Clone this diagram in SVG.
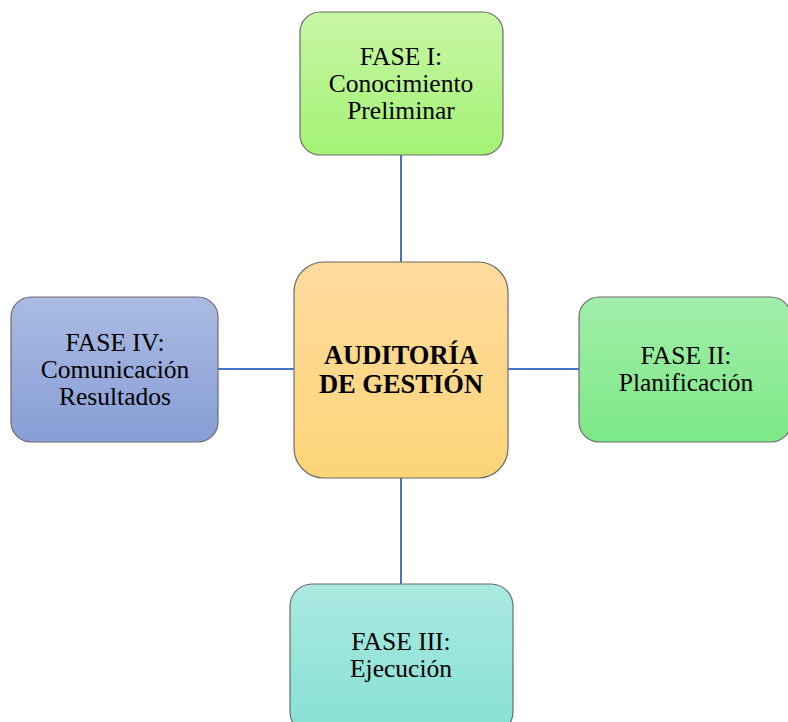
<svg xmlns="http://www.w3.org/2000/svg" width="788" height="722" viewBox="0 0 788 722">
<defs>
<linearGradient id="gTop" x1="0" y1="0" x2="0" y2="1"><stop offset="0" stop-color="#C8F6A6"/><stop offset="1" stop-color="#A4F274"/></linearGradient>
<linearGradient id="gCen" x1="0" y1="0" x2="0" y2="1"><stop offset="0" stop-color="#FDDB9E"/><stop offset="1" stop-color="#FDD577"/></linearGradient>
<linearGradient id="gLeft" x1="0" y1="0" x2="0" y2="1"><stop offset="0" stop-color="#AABAE2"/><stop offset="1" stop-color="#879FD6"/></linearGradient>
<linearGradient id="gRight" x1="0" y1="0" x2="0" y2="1"><stop offset="0" stop-color="#A2EEAA"/><stop offset="1" stop-color="#7CE886"/></linearGradient>
<linearGradient id="gBot" x1="0" y1="0" x2="0" y2="1"><stop offset="0" stop-color="#AAE9E0"/><stop offset="1" stop-color="#86E0D4"/></linearGradient>
</defs>
<style>
.box{stroke:#6b6b6b;stroke-width:1.2}
.t{font-family:"Liberation Serif","Times New Roman",serif;font-size:25.5px;fill:#000;text-anchor:middle}
.b{font-family:"Liberation Serif","Times New Roman",serif;font-size:26.5px;font-weight:bold;fill:#000;text-anchor:middle}
.c{stroke:#4472C4;stroke-width:2;fill:none}
</style>
<rect width="788" height="722" fill="#fff"/>
<g id="connectors">
<line class="c" x1="401" y1="155" x2="401" y2="262"/>
<line class="c" x1="401" y1="478" x2="401" y2="585"/>
<line class="c" x1="218" y1="369" x2="294" y2="369"/>
<line class="c" x1="508" y1="369" x2="579" y2="369"/>
</g>
<g id="fase1">
<rect class="box" x="300" y="12" width="203" height="143" rx="20" fill="url(#gTop)"/>
<text class="t" x="401" y="65">FASE I:</text>
<text class="t" x="401" y="92">Conocimiento</text>
<text class="t" x="401" y="119">Preliminar</text>
</g>
<g id="auditoria">
<rect class="box" x="294" y="262" width="214" height="216" rx="30" fill="url(#gCen)"/>
<text class="b" x="401" y="364">AUDITORÍA</text>
<text class="b" x="401" y="393">DE GESTIÓN</text>
</g>
<g id="fase4">
<rect class="box" x="11" y="297" width="207" height="145" rx="20" fill="url(#gLeft)"/>
<text class="t" x="115" y="351">FASE IV:</text>
<text class="t" x="115" y="378">Comunicación</text>
<text class="t" x="115" y="405">Resultados</text>
</g>
<g id="fase2">
<rect class="box" x="579" y="297" width="212" height="145" rx="20" fill="url(#gRight)"/>
<text class="t" x="686" y="364">FASE II:</text>
<text class="t" x="686" y="391">Planificación</text>
</g>
<g id="fase3">
<rect class="box" x="290" y="584" width="223" height="150" rx="22" fill="url(#gBot)"/>
<text class="t" x="401" y="650">FASE III:</text>
<text class="t" x="401" y="677">Ejecución</text>
</g>
</svg>
